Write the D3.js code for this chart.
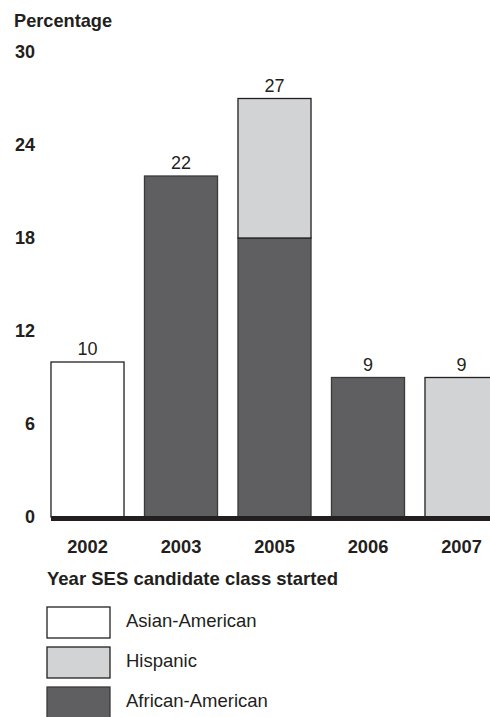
<!DOCTYPE html>
<html>
<head>
<meta charset="utf-8">
<script src="https://cdn.jsdelivr.net/npm/d3@7"></script>
<style>
  html, body { margin: 0; padding: 0; background: #fff; }
  svg { display: block; font-family: "Liberation Sans", Arial, Helvetica, sans-serif; }
</style>
</head>
<body>
<svg id="chart" width="490" height="717"></svg>
<script>
const years = ["2002", "2003", "2005", "2006", "2007"];
const seriesNames = ["African-American", "Hispanic", "Asian-American"];
const africanAmerican = [0, 22, 18, 9, 0];
const hispanic = [0, 0, 9, 0, 9];
const asianAmerican = [10, 0, 0, 0, 0];
const totals = [10, 22, 27, 9, 9];
const yTicks = [0, 6, 12, 18, 24, 30];
const legendOrder = ["Asian-American", "Hispanic", "African-American"];
const colors = { "Asian-American": "#ffffff", "Hispanic": "#d2d3d5", "African-American": "#5f5f61" };

const svg = d3.select("#chart");
const x = d3.scaleBand().domain(years).range([40.75, 40.75 + 5 * 93.5]).paddingInner(0.219).paddingOuter(0.1095);
const y = d3.scaleLinear().domain([0, 30]).range([517, 52]);

const rows = years.map((yr, i) => ({
  year: yr,
  "African-American": africanAmerican[i],
  "Hispanic": hispanic[i],
  "Asian-American": asianAmerican[i]
}));
const stack = d3.stack().keys(seriesNames);
const series = stack(rows);

svg.append("text").attr("x", 14).attr("y", 27).attr("font-size", 18.2).attr("font-weight", "bold").attr("fill", "#231f20").text("Percentage");

// y axis labels
const yAxis = d3.axisLeft(y).tickValues(yTicks).tickSize(0).tickPadding(0);
const ga = svg.append("g").attr("transform", "translate(35,0)").call(yAxis);
ga.select(".domain").remove();
ga.selectAll("text").attr("font-size", 18).attr("font-weight", "bold").attr("fill", "#231f20")
  .attr("font-family", "'Liberation Sans', Arial, Helvetica, sans-serif");

// bars
const g = svg.append("g");
series.forEach(s => {
  g.selectAll(null).data(s.filter(d => d[1] > d[0])).enter().append("rect")
    .attr("x", d => x(d.data.year))
    .attr("width", x.bandwidth())
    .attr("y", d => y(d[1]))
    .attr("height", d => y(d[0]) - y(d[1]))
    .attr("fill", colors[s.key])
    .attr("stroke", s.key === "African-American" ? "#3a3a3c" : "#231f20")
    .attr("stroke-width", 1.3);
});

// value labels
svg.selectAll(null).data(years).enter().append("text")
  .attr("x", d => x(d) + x.bandwidth() / 2)
  .attr("y", (d, i) => y(totals[i]) - 7)
  .attr("text-anchor", "middle").attr("font-size", 18).attr("fill", "#231f20")
  .text((d, i) => totals[i]);

// baseline
svg.append("line").attr("x1", x(years[0])).attr("x2", 490).attr("y1", 518.5).attr("y2", 518.5)
  .attr("stroke", "#231f20").attr("stroke-width", 5);

// x axis labels
const xAxis = d3.axisBottom(x).tickSize(0).tickPadding(0);
const gx = svg.append("g").attr("transform", "translate(0,553)").call(xAxis);
gx.select(".domain").remove();
gx.selectAll("text").attr("dy", 0).attr("font-size", 18.3).attr("font-weight", "bold").attr("fill", "#231f20")
  .attr("font-family", "'Liberation Sans', Arial, Helvetica, sans-serif");

// legend
svg.append("text").attr("x", 47).attr("y", 585).attr("font-size", 18.5).attr("font-weight", "bold").attr("fill", "#231f20")
  .text("Year SES candidate class started");
const lg = svg.selectAll(null).data(legendOrder).enter().append("g")
  .attr("transform", (d, i) => `translate(47,${607 + i * 40})`);
lg.append("rect").attr("width", 63).attr("height", 31).attr("fill", d => colors[d])
  .attr("stroke", d => d === "African-American" ? "#3a3a3c" : "#231f20").attr("stroke-width", 1.3);
lg.append("text").attr("x", 79).attr("y", 19.5).attr("font-size", 18.5).attr("fill", "#231f20").text(d => d);
</script>
</body>
</html>
